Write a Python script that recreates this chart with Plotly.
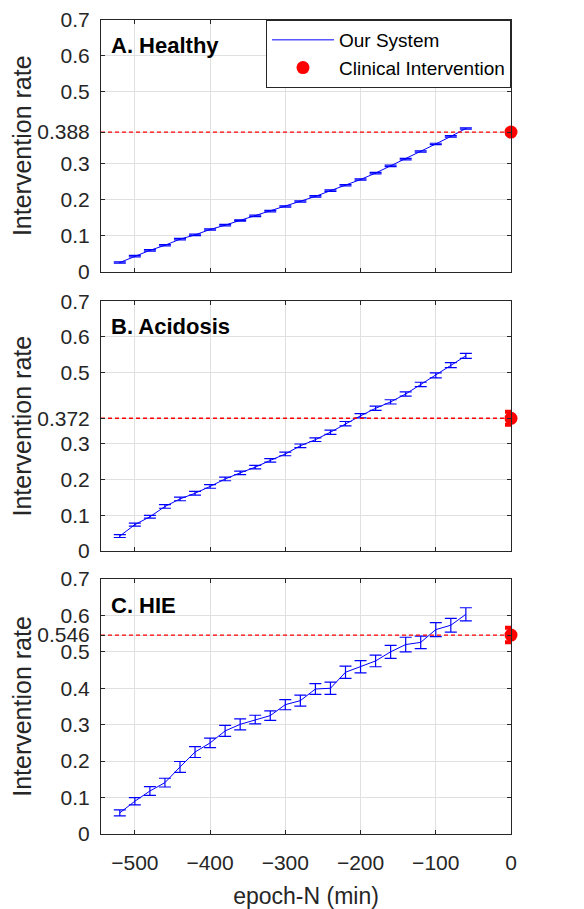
import plotly.graph_objects as go
from plotly.subplots import make_subplots

epochs = [-520, -500, -480, -460, -440, -420, -400, -380, -360, -340, -320, -300,
          -280, -260, -240, -220, -200, -180, -160, -140, -120, -100, -80, -60]

healthy = [0.025, 0.043, 0.059, 0.073, 0.090, 0.102, 0.117, 0.129, 0.142, 0.155, 0.168, 0.181,
           0.195, 0.209, 0.225, 0.240, 0.256, 0.274, 0.294, 0.313, 0.334, 0.355, 0.376, 0.398]
healthy_err = [0.002] * 24

acidosis = [0.042, 0.074, 0.096, 0.125, 0.146, 0.162, 0.181, 0.202, 0.219, 0.235, 0.254, 0.272,
            0.295, 0.312, 0.333, 0.357, 0.379, 0.400, 0.418, 0.440, 0.467, 0.492, 0.521, 0.547]
acidosis_err = [0.004, 0.004, 0.004, 0.005, 0.005, 0.005, 0.005, 0.005, 0.005, 0.005, 0.005, 0.005,
                0.005, 0.005, 0.006, 0.006, 0.006, 0.006, 0.006, 0.006, 0.006, 0.007, 0.007, 0.007]

hie = [0.058, 0.090, 0.118, 0.141, 0.184, 0.225, 0.250, 0.283, 0.301, 0.314, 0.325, 0.355,
       0.366, 0.398, 0.400, 0.444, 0.459, 0.475, 0.500, 0.520, 0.526, 0.561, 0.573, 0.603]
hie_err = [0.008, 0.010, 0.012, 0.012, 0.015, 0.015, 0.013, 0.015, 0.015, 0.012, 0.013, 0.014,
           0.015, 0.015, 0.017, 0.017, 0.017, 0.016, 0.018, 0.020, 0.017, 0.019, 0.019, 0.018]

clinical_x = 0
clinical = [0.388, 0.372, 0.546]
clinical_err = [0.004, 0.018, 0.020]

panel_titles = ["A. Healthy", "B. Acidosis", "C. HIE"]
series = [(healthy, healthy_err), (acidosis, acidosis_err), (hie, hie_err)]
ytick_sets = [
    [0, 0.1, 0.2, 0.3, 0.388, 0.5, 0.6, 0.7],
    [0, 0.1, 0.2, 0.3, 0.372, 0.5, 0.6, 0.7],
    [0, 0.1, 0.2, 0.3, 0.4, 0.5, 0.546, 0.6, 0.7],
]
ytick_text = [
    ["0", "0.1", "0.2", "0.3", "0.388", "0.5", "0.6", "0.7"],
    ["0", "0.1", "0.2", "0.3", "0.372", "0.5", "0.6", "0.7"],
    ["0", "0.1", "0.2", "0.3", "0.4", "0.5", "0.546", "0.6", "0.7"],
]
xticks = [-500, -400, -300, -200, -100, 0]
xrange_ = [-545, 0]

FONT = "Liberation Sans, Arial, sans-serif"
AXC = "#262626"

fig = make_subplots(rows=3, cols=1, shared_xaxes=False)

domains = [[0.6910, 1.0], [0.3476, 0.6545], [0.0, 0.3133]]

for i in range(3):
    r = i + 1
    vals, errs = series[i]
    fig.add_trace(go.Scatter(
        x=epochs, y=vals, mode="lines",
        line=dict(color="#0000ff", width=1),
        error_y=dict(type="data", array=errs, visible=True, color="#0000ff",
                     thickness=1.2, width=6),
        name="Our System", showlegend=(i == 0), legendgroup="a",
    ), row=r, col=1)
    fig.add_trace(go.Scatter(
        x=[xrange_[0], 0], y=[clinical[i], clinical[i]], mode="lines",
        line=dict(color="#ff0000", width=1.4, dash="4px,3px"),
        showlegend=False, hoverinfo="skip",
    ), row=r, col=1)
    fig.add_trace(go.Scatter(
        x=[clinical_x], y=[clinical[i]], mode="markers",
        marker=dict(color="#ff0000", size=13),
        error_y=dict(type="data", array=[clinical_err[i]], visible=True, color="#ff0000",
                     thickness=4, width=6),
        cliponaxis=False,
        name="Clinical Intervention", showlegend=(i == 0), legendgroup="b",
    ), row=r, col=1)

    fig.update_xaxes(
        row=r, col=1, range=xrange_, tickvals=xticks, automargin=False,
        showticklabels=(i == 2),
        showgrid=True, gridcolor="#e0e0e0", gridwidth=1,
        showline=True, linecolor=AXC, linewidth=1, mirror="ticks",
        ticks="inside", ticklen=4, tickcolor=AXC,
        tickfont=dict(family=FONT, size=21, color=AXC),
        ticklabelstandoff=10, ticklabeloverflow="allow",
        zeroline=False,
        title=dict(text="epoch-N (min)" if i == 2 else "",
                   font=dict(family=FONT, size=23, color=AXC), standoff=16),
    )
    fig.update_yaxes(
        row=r, col=1, range=[0, 0.7], domain=domains[i], automargin=False,
        tickvals=ytick_sets[i], ticktext=ytick_text[i],
        showgrid=True, gridcolor="#e0e0e0", gridwidth=1,
        showline=True, linecolor=AXC, linewidth=1, mirror="ticks",
        ticks="inside", ticklen=4, tickcolor=AXC,
        tickfont=dict(family=FONT, size=21, color=AXC),
        ticklabelstandoff=6, ticklabeloverflow="allow",
        zeroline=False,
        title=dict(text="Intervention rate",
                   font=dict(family=FONT, size=25, color=AXC), standoff=2),
    )
    ax = "" if i == 0 else str(i + 1)
    fig.add_annotation(
        text="<b>" + panel_titles[i] + "</b>",
        xref="x" + ax + " domain", yref="y" + ax + " domain",
        x=0.02, y=0.897, xanchor="left", yanchor="middle",
        showarrow=False, font=dict(family=FONT, size=22, color="#000000"),
    )

fig.update_layout(
    width=576, height=901,
    margin=dict(l=93, r=73, t=12, b=75),
    paper_bgcolor="white", plot_bgcolor="white",
    showlegend=True,
    legend=dict(x=1, y=1, xanchor="right", yanchor="top",
                bgcolor="white", bordercolor=AXC, borderwidth=1,
                font=dict(family=FONT, size=19, color="#000000"),
                itemwidth=62,
                traceorder="grouped", tracegroupgap=0),
)

fig.write_html("out.html")
